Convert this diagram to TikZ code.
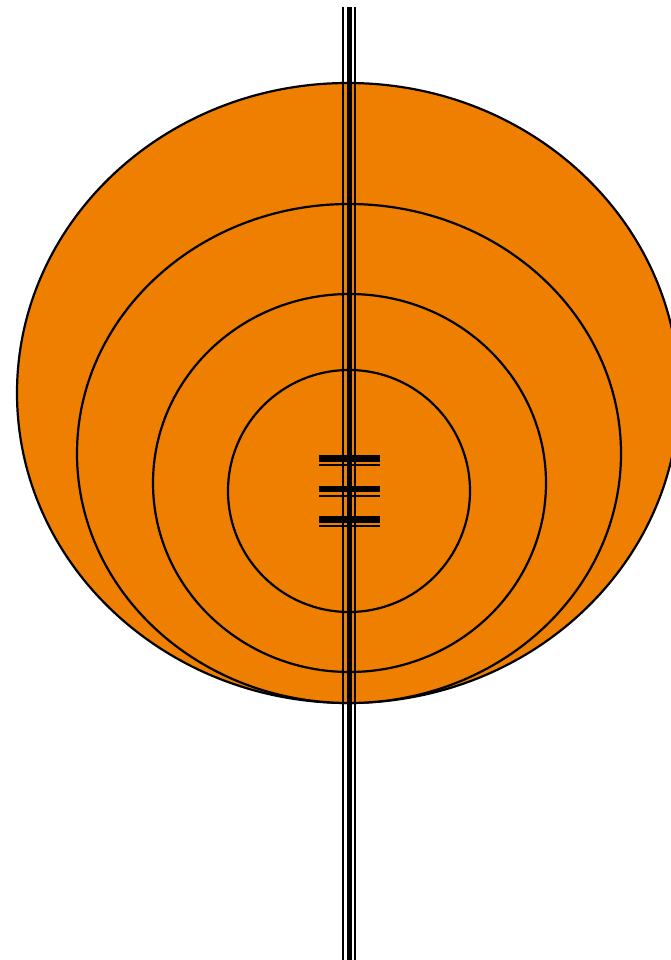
\documentclass[tikz,border=0pt]{standalone}
\usepackage{tikz}
\usepackage{xcolor}

\definecolor{discorange}{RGB}{238,127,0}

\begin{document}
\begin{tikzpicture}[x=1pt, y=-1pt, line width=2.2pt,
    ring/.style={draw=black, fill=discorange},
    thinrod/.style={line width=2pt},
    thickrod/.style={line width=5.3pt}]
    \useasboundingbox (0,0) rectangle (671,960);
    \clip (0,0) rectangle (671,960);
    % Rings (outer to inner)
    \draw[ring] (348,393) ellipse (331 and 310);
    \draw[ring] (349,453.5) ellipse (272 and 249.5);
    \draw[ring] (349.5,483) ellipse (196.5 and 189);
    \draw[ring] (349,491) circle (121);
    % Axis
    \coordinate (top) at (349,7);
    \coordinate (bot) at (349,960);
    \draw[thinrod] ([xshift=-6.5pt]top) -- ([xshift=-6.5pt]bot);
    \draw[thickrod] ([xshift=0.3pt]top) -- ([xshift=0.3pt]bot);
    \draw[thinrod] ([xshift=6.3pt]top) -- ([xshift=6.3pt]bot);
    % Marks
    \foreach \y in {458.3, 489, 519.3} {
        \draw[line width=6.5pt] (319,\y) -- (379.5,\y);
        \draw[thinrod] (319,\y+7) -- (379.5,\y+7);
    }
\end{tikzpicture}
\end{document}
